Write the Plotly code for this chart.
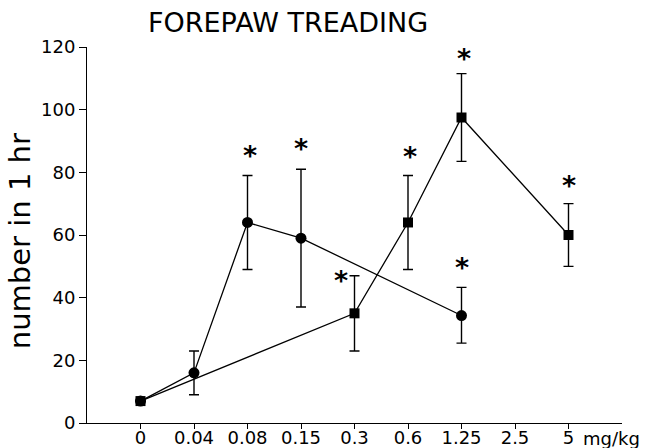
import plotly.graph_objects as go

categories = ["0", "0.04", "0.08", "0.15", "0.3", "0.6", "1.25", "2.5", "5"]
y_ticks = [0, 20, 40, 60, 80, 100, 120]

circle_cats = ["0", "0.04", "0.08", "0.15", "1.25"]
circle_vals = [7, 16, 64, 59, 34.3]
circle_err_plus = [None, 7, 15, 22, 9]
circle_err_minus = [None, 7, 15, 22, 8.8]

square_cats = ["0", "0.3", "0.6", "1.25", "5"]
square_vals = [7, 35, 64, 97.5, 60]
square_err_plus = [None, 12, 15, 14, 10]
square_err_minus = [None, 12, 15, 14, 10]

star_cats = ["0.08", "0.15", "0.3", "0.6", "1.25", "1.25", "5"]
star_vals = [87.6, 89.8, 47.7, 87.3, 118.7, 51.9, 78.1]
star_xshift = [2, 0, -14, 2, 2, 0, 0]

idx = {c: i for i, c in enumerate(categories)}
FONT = "DejaVu Sans"

fig = go.Figure()

fig.add_trace(go.Scatter(
    x=[idx[c] for c in circle_cats], y=circle_vals, mode="lines+markers",
    line=dict(color="black", width=1.3),
    marker=dict(symbol="circle", size=11, color="black"),
    error_y=dict(type="data", symmetric=False, array=circle_err_plus,
                 arrayminus=circle_err_minus, color="black", thickness=1.4, width=5),
    showlegend=False, hoverinfo="skip"))

fig.add_trace(go.Scatter(
    x=[idx[c] for c in square_cats], y=square_vals, mode="lines+markers",
    line=dict(color="black", width=1.3),
    marker=dict(symbol="square", size=10, color="black"),
    error_y=dict(type="data", symmetric=False, array=square_err_plus,
                 arrayminus=square_err_minus, color="black", thickness=1.4, width=5),
    showlegend=False, hoverinfo="skip"))

for c, v, xs in zip(star_cats, star_vals, star_xshift):
    fig.add_annotation(x=idx[c], y=v, text="<b>*</b>", showarrow=False,
                       xshift=xs, yshift=-7,
                       font=dict(family=FONT, size=27, color="black"),
                       xanchor="center", yanchor="middle")

fig.add_annotation(xref="paper", yref="paper", x=0.376, y=1.066,
                   text="FOREPAW TREADING", showarrow=False,
                   font=dict(family=FONT, size=27, color="black"),
                   xanchor="center", yanchor="middle")

fig.add_annotation(xref="paper", yref="paper", x=-0.125, y=0.484,
                   text="number in 1 hr", showarrow=False, textangle=-90,
                   font=dict(family=FONT, size=29, color="black"),
                   xanchor="center", yanchor="middle")

fig.add_annotation(x=idx["5"], xref="x", yref="paper", y=0, yshift=-3,
                   text="mg/kg", showarrow=False, xshift=12,
                   font=dict(family=FONT, size=18, color="black"),
                   xanchor="left", yanchor="top")

fig.update_layout(
    width=650, height=448,
    margin=dict(l=87, r=28, t=47, b=25),
    paper_bgcolor="white", plot_bgcolor="white",
    xaxis=dict(range=[-1, 9], tickmode="array", automargin=False,
               tickvals=list(range(len(categories))), ticktext=categories,
               showline=True, linecolor="black", linewidth=1,
               ticks="outside", ticklen=5, tickcolor="black",
               ticklabelstandoff=-7,
               showgrid=False, zeroline=False,
               tickfont=dict(family=FONT, size=18, color="black")),
    yaxis=dict(range=[0, 120], tickmode="array", tickvals=y_ticks, automargin=False,
               showline=True, linecolor="black", linewidth=1,
               ticks="outside", ticklen=7, tickcolor="black",
               showgrid=False, zeroline=False,
               tickfont=dict(family=FONT, size=18, color="black")),
)

fig.write_html("out.html", config={"displayModeBar": False},
               post_script="document.body.style.margin='0px';document.body.style.overflow='hidden';")
